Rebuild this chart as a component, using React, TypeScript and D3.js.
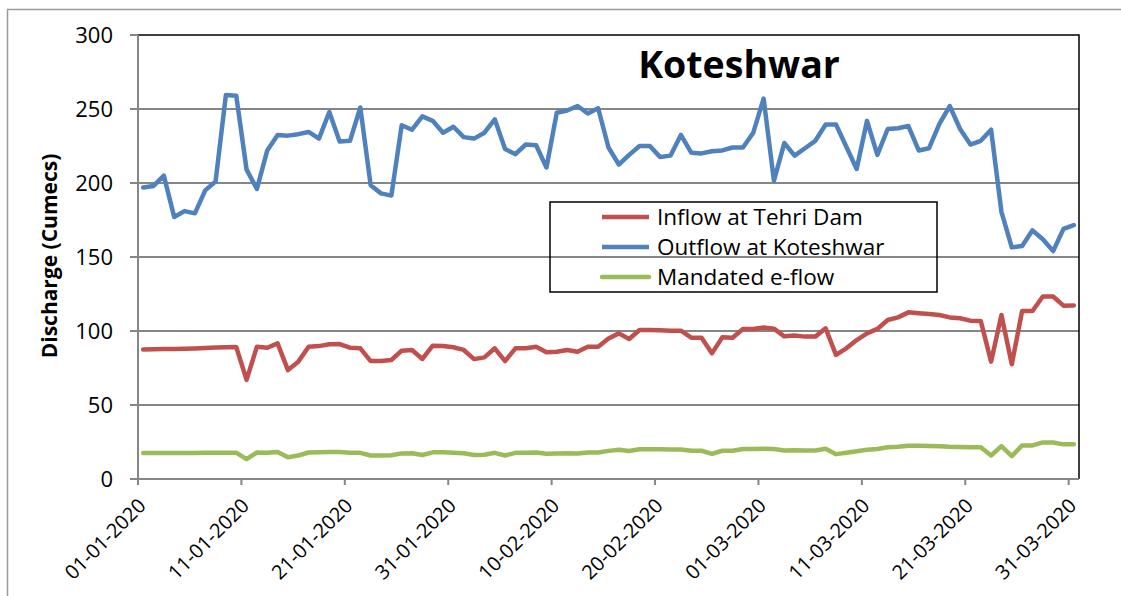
import React from "react";
import * as d3 from "d3";

const inflow: number[] = [
  87.5, 87.7, 87.8, 87.8, 88, 88.2, 88.5, 88.8, 89, 89.2,
  67, 89.4, 88.7, 91.6, 73.6, 79.3, 89.4, 89.8, 91, 91.2,
  88.7, 88.3, 79.7, 79.7, 80.4, 86.7, 87.2, 81.1, 90.1, 89.9,
  89, 87.2, 81, 82.2, 88.3, 79.7, 88.3, 88.3, 89.4, 85.6,
  86, 87.2, 86, 89.4, 89.4, 95, 98.4, 94.6, 100.7, 100.7,
  100.5, 100.2, 100.2, 95.5, 95.5, 84.9, 95.7, 95.5, 101.4, 101.4,
  102.3, 101.6, 96.4, 96.9, 96.2, 96.2, 101.8, 83.8, 88.3, 93.9,
  98.4, 101.4, 107.4, 109.2, 112.6, 112, 111.5, 110.8, 109.2, 108.6,
  107, 106.8, 79.3, 110.8, 77.5, 113.5, 113.5, 123.3, 123.3, 117.1, 117.3,
];

const outflow: number[] = [
  197, 198, 205, 177, 181, 179.5, 195, 201, 259.5, 259,
  209, 196, 222, 232.5, 232, 233, 234.5, 230, 248, 228,
  228.5, 251, 198.5, 193, 191.5, 239, 236, 245, 242, 234,
  238, 231, 230, 234, 243, 223, 219.5, 226, 225.5, 210.5,
  247.5, 249, 252, 247, 250.5, 224, 212.5, 219, 225, 225,
  217.5, 218.5, 232.5, 220.5, 220, 221.5, 222, 224, 224, 234,
  257, 201.5, 227, 218.5, 223.5, 228.5, 239.5, 239.5, 224.5, 209.5,
  242, 219, 236.5, 237, 238.5, 222, 223.5, 240, 252, 236.5,
  226, 228.5, 236, 180.5, 156.5, 157.5, 168, 162, 154, 169, 171.5,
];

const eflow: number[] = [
  17.5, 17.5, 17.6, 17.6, 17.6, 17.6, 17.7, 17.8, 17.8, 17.8,
  13.4, 17.9, 17.7, 18.3, 14.7, 15.9, 17.9, 18, 18.2, 18.2,
  17.7, 17.7, 15.9, 15.9, 16.1, 17.3, 17.4, 16.2, 18, 18,
  17.8, 17.4, 16.2, 16.4, 17.7, 15.9, 17.7, 17.7, 17.9, 17.1,
  17.2, 17.4, 17.2, 17.9, 17.9, 19, 19.7, 18.9, 20.1, 20.1,
  20.1, 20, 20, 19.1, 19.1, 17, 19.1, 19.1, 20.3, 20.3,
  20.5, 20.3, 19.3, 19.4, 19.2, 19.2, 20.4, 16.8, 17.7, 18.8,
  19.7, 20.3, 21.5, 21.8, 22.5, 22.4, 22.3, 22.2, 21.8, 21.7,
  21.4, 21.4, 15.9, 22.2, 15.5, 22.7, 22.7, 24.7, 24.7, 23.4, 23.5,
];

const tickDays: number[] = [0, 10, 20, 30, 40, 50, 60, 70, 80, 90];
const tickLabels: string[] = [
  "01-01-2020", "11-01-2020", "21-01-2020", "31-01-2020", "10-02-2020",
  "20-02-2020", "01-03-2020", "11-03-2020", "21-03-2020", "31-03-2020",
];
const yTicks: number[] = [0, 50, 100, 150, 200, 250, 300];

const seriesNames: string[] = ["Inflow at Tehri Dam", "Outflow at Koteshwar", "Mandated e-flow"];
const seriesColors: string[] = ["#C0504D", "#4F81BD", "#9BBB59"];

export default function App() {
  const W = 1121, H = 596;
  const L = 138, R = 1079, T = 35, B = 479;
  const nDays = inflow.length;
  const x = d3.scaleLinear().domain([0, nDays]).range([L, R]);
  const y = d3.scaleLinear().domain([0, 300]).range([B, T]);
  const line = d3.line<number>().x((_, i) => x(i + 0.5)).y((d) => y(d));
  const series = [inflow, outflow, eflow];
  const font = "'Open Sans', sans-serif";
  const grey = "#868686";

  return (
    <svg width={W} height={H} style={{ position: "fixed", left: 0, top: 0, background: "#fff" }} fontFamily={font}>
      <rect x={0} y={0} width={W} height={H} fill="#fff" />
      {/* outer chart border */}
      <path d={`M7.5,${H + 5} V9.5 H${W + 5}`} fill="none" stroke="#9a9a9a" strokeWidth={1.5} />
      {/* gridlines */}
      {yTicks.filter((t) => t > 0 && t < 300).map((t) => (
        <line key={t} x1={L} x2={R} y1={y(t)} y2={y(t)} stroke={grey} strokeWidth={2} />
      ))}
      {/* plot border top/right */}
      <path d={`M${L},${T} H${R} V${B}`} fill="none" stroke="#000" strokeWidth={1.5} />
      {/* y axis */}
      <line x1={L} x2={L} y1={T} y2={B} stroke={grey} strokeWidth={2} />
      {yTicks.map((t) => (
        <g key={t}>
          <line x1={L - 8} x2={L} y1={y(t)} y2={y(t)} stroke={grey} strokeWidth={2} />
          <text x={113} y={y(t)} dy="0.35em" textAnchor="end" fontSize={22} fill="#000">{t}</text>
        </g>
      ))}
      {/* x axis */}
      <line x1={L} x2={R} y1={B} y2={B} stroke={grey} strokeWidth={2} />
      {tickDays.map((d, i) => (
        <g key={d}>
          <line x1={x(d)} x2={x(d)} y1={B} y2={B + 6} stroke={grey} strokeWidth={2} />
          <text transform={`translate(${x(d) + 9},${B + 28}) rotate(-45)`} textAnchor="end" fontSize={20} fill="#000">
            {tickLabels[i]}
          </text>
        </g>
      ))}
      {/* series */}
      {[2, 0, 1].map((k) => (
        <path key={k} d={line(series[k]) || ""} fill="none" stroke={seriesColors[k]} strokeWidth={4.5}
          strokeLinejoin="round" strokeLinecap="round" />
      ))}
      {/* y axis title */}
      <text transform={`translate(57,256) rotate(-90)`} textAnchor="middle" fontSize={21} fontWeight="bold" fill="#000">
        Discharge (Cumecs)
      </text>
      {/* title */}
      <text x={739} y={78} textAnchor="middle" fontSize={37.5} fontWeight="bold" fill="#000">Koteshwar</text>
      {/* legend */}
      <rect x={550} y={202} width={387} height={90} fill="none" stroke="#000" strokeWidth={1.5} />
      {seriesNames.map((nm, i) => (
        <g key={nm}>
          <line x1={602} x2={649} y1={217 + i * 30} y2={217 + i * 30} stroke={seriesColors[i]} strokeWidth={4.5}
            strokeLinecap={i === 2 ? "round" : "butt"} />
          <text x={657} y={217 + i * 30} dy="0.35em" fontSize={22.5} fill="#000">{nm}</text>
        </g>
      ))}
    </svg>
  );
}
